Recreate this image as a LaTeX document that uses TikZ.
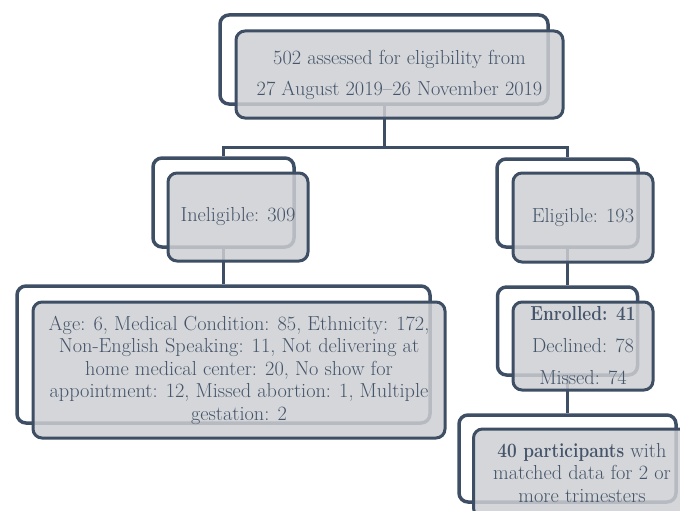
\documentclass[tikz,border=0pt]{standalone}
\definecolor{edge}{HTML}{3E4E64}
\definecolor{txt}{HTML}{44546A}
\definecolor{boxfill}{HTML}{CDCFD2}
\newcommand{\bnarrow}[1]{\scalebox{0.85}[1]{\textbf{#1}}}
\begin{document}
\begin{tikzpicture}[x=1pt,y=-1pt,
  backbox/.style={draw=edge, line width=3.5pt, rounded corners=9pt, inner sep=0pt},
  frontbox/.style={draw=edge, line width=3pt, rounded corners=9pt, inner sep=0pt,
    fill=boxfill, fill opacity=0.85, text opacity=1, text=txt, align=center},
  conn/.style={draw=edge, line width=3pt}]
\useasboundingbox (0,0) rectangle (680,511);
\clip (0,0) rectangle (680,511);
% back outlines
\node[backbox, minimum width=328, minimum height=89] (topb) at (384,59.5) {};
\node[backbox, minimum width=141, minimum height=89] (inelb) at (223.5,202.5) {};
\node[backbox, minimum width=141, minimum height=88] (eligb) at (567.5,203) {};
\node[backbox, minimum width=413, minimum height=137] (reasb) at (223.5,354.5) {};
\node[backbox, minimum width=140, minimum height=88] (enrolb) at (567.5,331) {};
\node[backbox, minimum width=217, minimum height=87] (partb) at (567.5,458.5) {};
% connectors
\coordinate (split) at (384,147);
\draw[conn] (topb.south) -- (split) -| (inelb.north);
\draw[conn] (split) -| (eligb.north);
\draw[conn] (inelb.south) -- (reasb.north);
\draw[conn] (eligb.south) -- (enrolb.north);
\draw[conn] (enrolb.south) -- (partb.north);
% front boxes
\node[frontbox, minimum width=327, minimum height=87, font=\fontsize{20.3}{31}\selectfont] (top) at (399.5,74.5)
  {502 assessed for eligibility from\\27 August 2019--26 November 2019};
\node[frontbox, minimum width=140, minimum height=88, font=\fontsize{20.3}{22.5}\selectfont] (inel) at (238,217)
  {Ineligible: 309};
\node[frontbox, minimum width=140, minimum height=89, font=\fontsize{20.3}{22.5}\selectfont] (elig) at (583,217.5)
  {Eligible: 193};
\node[frontbox, minimum width=412, minimum height=136, font=\fontsize{20.3}{22.5}\selectfont] (reas) at (239,370)
  {Age: 6, Medical Condition: 85, Ethnicity: 172,\\Non-English Speaking: 11, Not delivering at\\home medical center: 20, No show for\\appointment: 12, Missed abortion: 1, Multiple\\gestation: 2};
\node[frontbox, minimum width=140, minimum height=88, font=\fontsize{20.3}{32}\selectfont] (enrol) at (583,346)
  {\bnarrow{Enrolled: 41}\\Declined: 78\\Missed: 74};
\node[frontbox, minimum width=217, minimum height=88, font=\fontsize{20.3}{22.5}\selectfont] (part) at (582,473)
  {\bnarrow{40 participants} with\\matched data for 2 or\\more trimesters};
\end{tikzpicture}
\end{document}
